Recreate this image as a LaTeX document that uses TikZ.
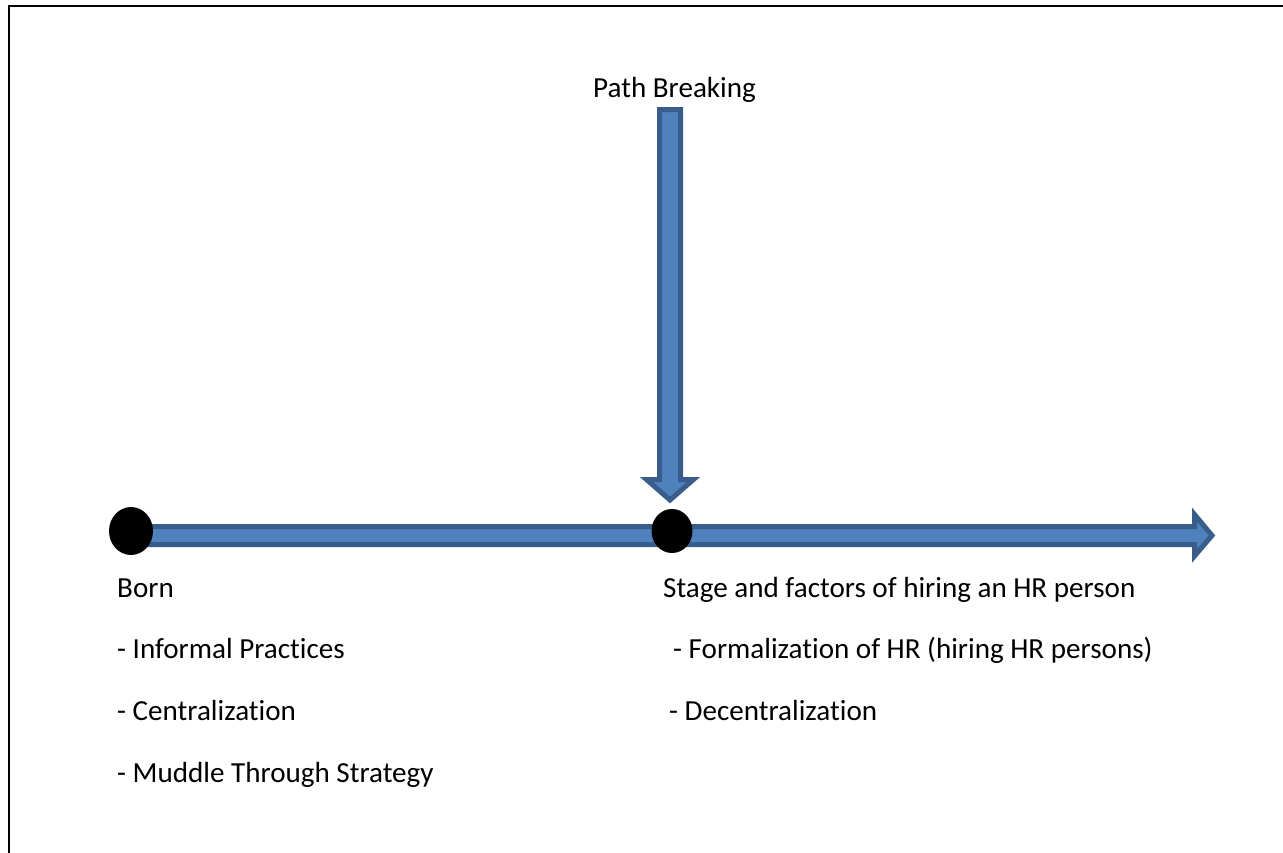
\documentclass[tikz,border=0pt]{standalone}
\usepackage{fontspec}
\setmainfont{Carlito}[Ligatures={NoCommon,NoRequired,NoContextual}]
\usetikzlibrary{shapes.geometric}
\definecolor{arrowfill}{HTML}{4F81BD}
\definecolor{arrowline}{HTML}{385D8A}
\begin{document}
\begin{tikzpicture}[x=1pt,y=-1pt,
  blockarrow/.style={draw=arrowline,fill=arrowfill,line width=5pt,line join=miter,miter limit=10},
  dot/.style={ellipse,fill=black,draw=none,inner sep=0pt},
  label/.style={anchor=base west,inner sep=0pt,font=\fontsize{29.1}{35}\selectfont}]
\useasboundingbox (0,0) rectangle (1283,852);
\fill[white] (0,0) rectangle (1283,852);

% frame (top and left edges)
\draw[line width=2pt,line cap=rect] (1283,6) -- (9,6) -- (9,852);

% timeline arrow
\coordinate (tstart) at (135,535.5);
\coordinate (ttip) at (1212,535.5);
\draw[blockarrow] (tstart) ++(0,-9) -- ++(1059.5,0) -- ++(0,-12) -- (ttip)
  -- ++(-17.5,20.5) -- ++(0,-11.5) -- ++(-1059.5,0) -- cycle;

% incoming arrow from above
\coordinate (vtop) at (670,109.5);
\coordinate (vtip) at (670,500);
\draw[blockarrow] (vtop) ++(-10.5,0) -- ++(21,0) -- ++(0,370) -- ++(13,0) -- (vtip)
  -- ++(-23.5,-20.5) -- ++(13,0) -- cycle;

% stage markers
\node[dot,minimum width=44pt,minimum height=48pt] (born) at (131,531) {};
\node[dot,minimum width=41pt,minimum height=44pt] (stage) at (672,531) {};

% texts
\node[label] (path) at (593,97) {Path Breaking};
\node[label] (borntxt) at (117,597) {Born};
\node[label] (informal) at (117,658) {- Informal Practices};
\node[label] (central) at (117,720) {- Centralization};
\node[label] (muddle) at (117,782) {- Muddle Through Strategy};
\node[label] (stagetxt) at (663,597) {Stage and factors of hiring an HR person};
\node[label] (formal) at (673,658) {- Formalization of HR (hiring HR persons)};
\node[label] (decentral) at (669,720) {- Decentralization};
\end{tikzpicture}
\end{document}
